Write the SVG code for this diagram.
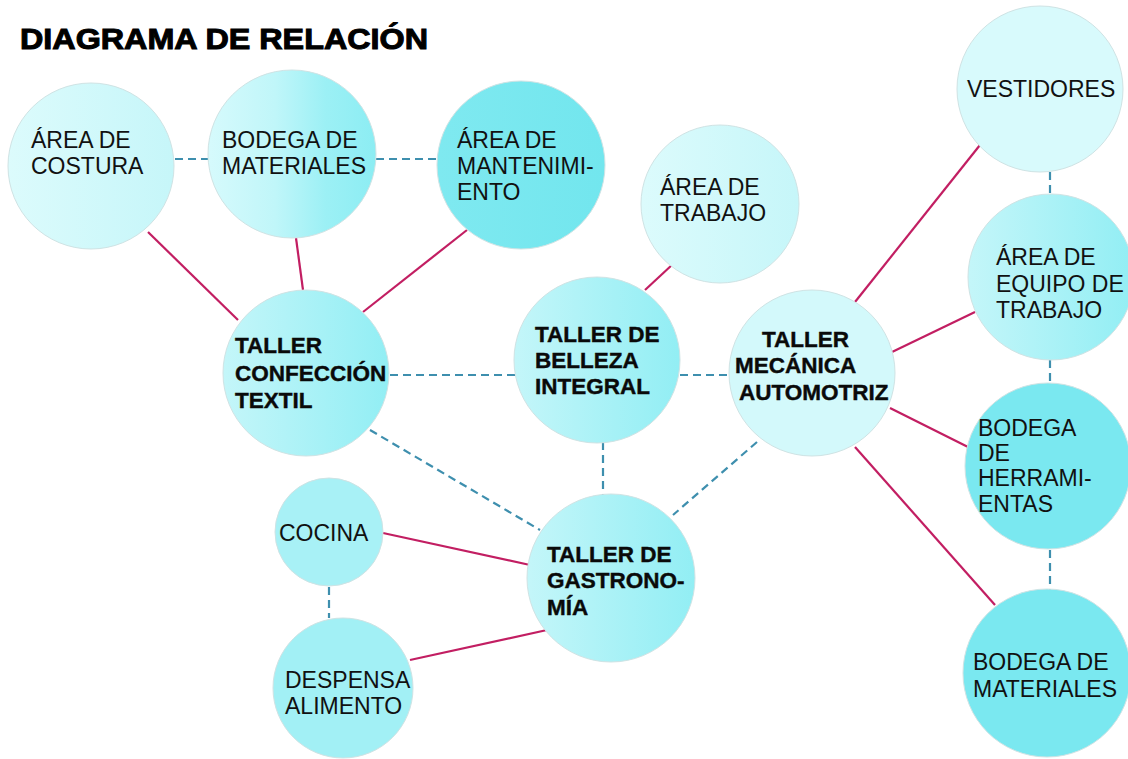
<svg xmlns="http://www.w3.org/2000/svg" width="1128" height="759" viewBox="0 0 1128 759">
<defs>
<style>
.t{font-family:"Liberation Sans",Arial,sans-serif;font-size:23px;fill:#111}
.b{font-family:"Liberation Sans",Arial,sans-serif;font-size:22.5px;font-weight:bold;fill:#0a0a0a;stroke:#0a0a0a;stroke-width:0.4}
.c{stroke:#cfe3e4;stroke-width:1}
.s{stroke:#c21e62;stroke-width:2.2;fill:none}
.d{stroke:#3e8fae;stroke-width:2.2;stroke-dasharray:8 5;fill:none}
</style>
<linearGradient id="gLight" x1="0" y1="0" x2="1" y2="0"><stop offset="0" stop-color="#dcfbfc"/><stop offset="1" stop-color="#c6f6f9"/></linearGradient>
<linearGradient id="gMid" x1="0" y1="0" x2="1" y2="0"><stop offset="0" stop-color="#d6fafc"/><stop offset="0.4" stop-color="#c0f6f9"/><stop offset="0.7" stop-color="#9cf0f5"/><stop offset="1" stop-color="#8cedf3"/></linearGradient>
<linearGradient id="gMid2" x1="0" y1="0" x2="1" y2="0"><stop offset="0" stop-color="#c4f6f9"/><stop offset="1" stop-color="#92eef4"/></linearGradient>
<linearGradient id="gDark" x1="0" y1="0" x2="1" y2="0"><stop offset="0" stop-color="#7fe9f0"/><stop offset="1" stop-color="#72e6ee"/></linearGradient>
</defs>
<rect width="1128" height="759" fill="#ffffff"/>
<text x="20" y="49" font-family="'Liberation Sans',Arial,sans-serif" font-size="29" font-weight="bold" fill="#000" stroke="#000" stroke-width="1" textLength="408" lengthAdjust="spacingAndGlyphs">DIAGRAMA DE RELACIÓN</text>

<g id="connectors">
<line class="s" x1="148" y1="232" x2="238" y2="320"/>
<line class="s" x1="296" y1="238" x2="303" y2="290"/>
<line class="s" x1="467" y1="230" x2="363" y2="312"/>
<line class="s" x1="673" y1="264" x2="645" y2="290"/>
<line class="s" x1="980" y1="145" x2="855" y2="302"/>
<line class="s" x1="975" y1="312" x2="892" y2="352"/>
<line class="s" x1="968" y1="447" x2="890" y2="408"/>
<line class="s" x1="995" y1="605" x2="855" y2="447"/>
<line class="s" x1="383" y1="533" x2="530" y2="565"/>
<line class="s" x1="410" y1="660" x2="547" y2="630"/>
<line class="d" x1="175" y1="159" x2="208" y2="159"/>
<line class="d" x1="376" y1="159" x2="437" y2="159"/>
<line class="d" x1="390" y1="375" x2="515" y2="375"/>
<line class="d" x1="680" y1="375" x2="730" y2="375"/>
<line class="d" x1="370" y1="430" x2="540" y2="530"/>
<line class="d" x1="603" y1="442" x2="603" y2="495"/>
<line class="d" x1="757" y1="442" x2="673" y2="515"/>
<line class="d" x1="1050" y1="172" x2="1050" y2="193"/>
<line class="d" x1="1050" y1="360" x2="1050" y2="383"/>
<line class="d" x1="1050" y1="550" x2="1050" y2="590"/>
<line class="d" x1="329" y1="587" x2="329" y2="618"/>
</g>

<g id="area-costura">
<circle class="c" cx="91" cy="166" r="83" fill="url(#gLight)"/>
<text class="t" x="31" y="148">ÁREA DE</text>
<text class="t" x="31" y="174">COSTURA</text>
</g>
<g id="bodega-materiales-1">
<circle class="c" cx="292" cy="154" r="84" fill="url(#gMid)"/>
<text class="t" x="222" y="148">BODEGA DE</text>
<text class="t" x="222" y="174">MATERIALES</text>
</g>
<g id="area-mantenimiento">
<circle class="c" cx="521" cy="165" r="84" fill="url(#gDark)"/>
<text class="t" x="457" y="148">ÁREA DE</text>
<text class="t" x="457" y="174">MANTENIMI-</text>
<text class="t" x="457" y="200">ENTO</text>
</g>
<g id="area-trabajo">
<circle class="c" cx="720" cy="204" r="79" fill="url(#gLight)"/>
<text class="t" x="660" y="195">ÁREA DE</text>
<text class="t" x="660" y="221">TRABAJO</text>
</g>
<g id="vestidores">
<circle class="c" cx="1040" cy="89" r="83" fill="#d8fafc"/>
<text class="t" x="967" y="97">VESTIDORES</text>
</g>
<g id="area-equipo">
<circle class="c" cx="1051" cy="277" r="83" fill="url(#gMid2)"/>
<text class="t" x="996" y="265">ÁREA DE</text>
<text class="t" x="996" y="292">EQUIPO DE</text>
<text class="t" x="996" y="318">TRABAJO</text>
</g>
<g id="bodega-herramientas">
<circle class="c" cx="1048" cy="466" r="83" fill="#7ae8f0"/>
<text class="t" x="978" y="436">BODEGA</text>
<text class="t" x="978" y="461">DE</text>
<text class="t" x="978" y="486">HERRAMI-</text>
<text class="t" x="978" y="512">ENTAS</text>
</g>
<g id="bodega-materiales-2">
<circle class="c" cx="1047" cy="673" r="84" fill="#7ae8f0"/>
<text class="t" x="973" y="670">BODEGA DE</text>
<text class="t" x="973" y="697">MATERIALES</text>
</g>
<g id="taller-confeccion">
<circle class="c" cx="306" cy="373" r="83" fill="url(#gMid2)"/>
<text class="b" x="235" y="353">TALLER</text>
<text class="b" x="235" y="381">CONFECCIÓN</text>
<text class="b" x="235" y="408">TEXTIL</text>
</g>
<g id="taller-belleza">
<circle class="c" cx="597" cy="360" r="83" fill="url(#gMid2)"/>
<text class="b" x="535" y="342">TALLER DE</text>
<text class="b" x="535" y="368">BELLEZA</text>
<text class="b" x="535" y="394">INTEGRAL</text>
</g>
<g id="taller-mecanica">
<circle class="c" cx="812" cy="373" r="83" fill="#d3f9fb"/>
<text class="b" x="762" y="347">TALLER</text>
<text class="b" x="735" y="373">MECÁNICA</text>
<text class="b" x="739" y="400">AUTOMOTRIZ</text>
</g>
<g id="taller-gastronomia">
<circle class="c" cx="611" cy="578" r="84" fill="url(#gMid2)"/>
<text class="b" x="547" y="562">TALLER DE</text>
<text class="b" x="547" y="588">GASTRONO-</text>
<text class="b" x="547" y="615">MÍA</text>
</g>
<g id="cocina">
<circle class="c" cx="329" cy="532" r="54" fill="#a8f1f6"/>
<text class="t" x="279" y="541">COCINA</text>
</g>
<g id="despensa">
<circle class="c" cx="343" cy="688" r="70" fill="#a2f0f5"/>
<text class="t" x="285" y="688">DESPENSA</text>
<text class="t" x="285" y="714">ALIMENTO</text>
</g>
</svg>
